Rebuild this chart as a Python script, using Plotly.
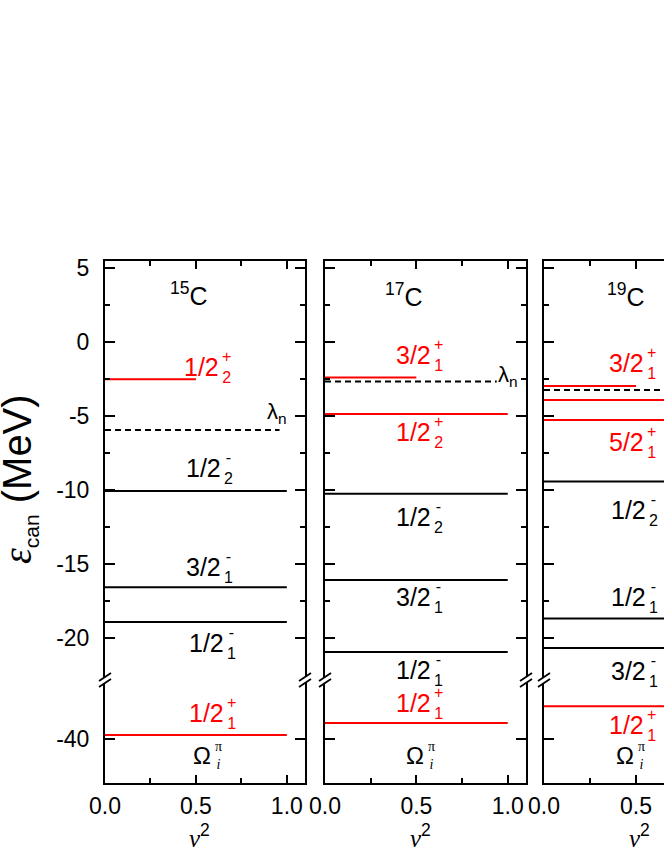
import plotly.graph_objects as go

# ---------------- data ----------------
NUCLEI = ["<sup>15</sup>C", "<sup>17</sup>C", "<sup>19</sup>C"]

# canonical single-particle energies (MeV), occupation v^2, parity
E15 = [-2.54, -10.09, -16.60, -18.94, -39.70]
V15 = [0.50, 1.00, 1.00, 1.00, 1.00]
P15 = ["+", "-", "-", "-", "+"]

E17 = [-2.43, -4.88, -10.27, -16.10, -20.97, -38.90]
V17 = [0.50, 1.00, 1.00, 1.00, 1.00, 1.00]
P17 = ["+", "+", "-", "-", "-", "+"]

E19 = [-2.99, -3.94, -5.29, -9.45, -18.70, -20.70, -37.76]
V19 = [0.50, 1.00, 1.00, 1.00, 1.00, 1.00, 1.00]
P19 = ["+", "+", "+", "-", "-", "-", "+"]

LAMBDA_N = [-5.97, -2.70, -3.26]     # neutron Fermi energy
LAMBDA_V2 = [0.96, 0.94, 0.94]

# state labels: (j, index, parity)
S15 = [("1/2", "2", "+"), ("1/2", "2", "-"), ("3/2", "1", "-"), ("1/2", "1", "-"), ("1/2", "1", "+")]
S17 = [("3/2", "1", "+"), ("1/2", "2", "+"), ("1/2", "2", "-"), ("3/2", "1", "-"), ("1/2", "1", "-"), ("1/2", "1", "+")]
S19 = [("3/2", "1", "+"), ("5/2", "1", "+"), ("1/2", "2", "-"), ("1/2", "1", "-"), ("3/2", "1", "-"), ("1/2", "1", "+")]

Y_TICKS_UP = [5, 0, -5, -10, -15, -20]
Y_TICKS_LOW = [-40]
X_TICKS = [0.0, 0.5, 1.0]

# ---------------- layout geometry ----------------
W, H = 664, 860
def px(x): return x / W
def py(y): return 1 - y / H

X_DOM = [(105, 305), (325, 526), (544, 664)]
X_RANGE = [[0, 1.1], [0, 1.1], [0, 0.652]]
Y_TOP, Y_BRK, Y_BOT = 260.7, 680, 783
UP_RANGE = [-22.86, 5.47]
LOW_RANGE = [-42.95, -35.99]
BREAK_E = -30

# label placement (x = right edge of the main text, y = centre), per panel
LAB_POS = [
    [(0.62, -1.69), (0.63, -8.55), (0.63, -15.2), (0.65, -20.38), (0.65, -38.24)],
    [(0.575, -0.9), (0.575, -6.1), (0.575, -11.82), (0.575, -17.23), (0.575, -22.18), (0.575, -37.57)],
    [(0.54, -1.46), (0.54, -6.8), (0.55, -11.37), (0.55, -17.27), (0.55, -22.23), (0.54, -39.03)],
]
NUC_POS = [(0.46, 3.24), (0.43, 3.16), (0.446, 3.16)]
LAM_POS = [(0.947, -4.8), (1.0, -2.3), None]
OMEGA_X = [0.595, 0.55, 0.50]
OMEGA_Y = -41.06
NU_X = [0.52, 0.52, 0.52]

RED, BLACK = "#ff0000", "#000000"
FONT = "Arial, Liberation Sans, sans-serif"

fig = go.Figure()
anns = []
shapes = []

def ax_ids(i):
    lo = "" if i == 0 else str(i + 1)
    up = str(i + 4)
    return ("x" + lo, "y" + lo, "x" + up, "y" + up)

panels = [(E15, V15, P15, S15), (E17, V17, P17, S17), (E19, V19, P19, S19)]

for i, (E, V, P, S) in enumerate(panels):
    xl, yl, xu, yu = ax_ids(i)
    # level lines
    for e, v, p in zip(E, V, P):
        lower = e < BREAK_E
        fig.add_trace(go.Scatter(
            x=[0, v], y=[e, e], mode="lines",
            line=dict(color=RED if p == "+" else BLACK, width=2),
            xaxis=xl if lower else xu, yaxis=yl if lower else yu,
            showlegend=False, hoverinfo="skip"))
    # Fermi level
    fig.add_trace(go.Scatter(
        x=[0, LAMBDA_V2[i]], y=[LAMBDA_N[i]] * 2, mode="lines",
        line=dict(color=BLACK, width=2, dash="6px,4px"),
        xaxis=xu, yaxis=yu, showlegend=False, hoverinfo="skip"))

    # state labels
    for (j, sub, sup), (lx, ly) in zip(S, LAB_POS[i]):
        lower = ly < BREAK_E
        col = RED if sup == "+" else BLACK
        xr = xl if lower else xu
        yr = yl if lower else yu
        anns.append(dict(xref=xr, yref=yr, x=lx, y=ly, text=j, showarrow=False,
                         xanchor="right", yanchor="middle", xshift=3,
                         font=dict(size=25, color=col, family=FONT)))
        anns.append(dict(xref=xr, yref=yr, x=lx, y=ly, text=f"{sup}<br>{sub}",
                         showarrow=False, xanchor="left", yanchor="middle", xshift=2,
                         font=dict(size=16, color=col, family=FONT)))
    # nucleus name
    anns.append(dict(xref=xu, yref=yu, x=NUC_POS[i][0], y=NUC_POS[i][1], text=NUCLEI[i],
                     showarrow=False, xanchor="center", yanchor="middle",
                     font=dict(size=25, color=BLACK, family=FONT)))
    # lambda_n
    if LAM_POS[i] is not None:
        anns.append(dict(xref=xu, yref=yu, x=LAM_POS[i][0], y=LAM_POS[i][1],
                         text="λ<sub>n</sub>", showarrow=False, xanchor="center", yanchor="middle",
                         font=dict(size=22, color=BLACK, family=FONT)))
    # Omega_i^pi
    anns.append(dict(xref=xl, yref=yl, x=OMEGA_X[i], y=OMEGA_Y, text="Ω", showarrow=False,
                     xanchor="right", yanchor="middle",
                     font=dict(size=24, color=BLACK, family=FONT)))
    anns.append(dict(xref=xl, yref=yl, x=OMEGA_X[i], y=OMEGA_Y,
                     text="π<br><i>i</i>", showarrow=False, xanchor="left", yanchor="middle",
                     xshift=0, font=dict(size=14, color=BLACK, family="Liberation Serif, serif")))
    # nu^2 axis title
    anns.append(dict(xref=xl, yref="paper", x=NU_X[i], y=py(836),
                     text='<span style="font-family:Liberation Serif"><i>ν</i></span><sup>2</sup>',
                     showarrow=False, xanchor="center", yanchor="middle",
                     font=dict(size=25, color=BLACK, family=FONT)))

    # axes
    xd = [px(X_DOM[i][0]), px(X_DOM[i][1])]
    common_x = dict(domain=xd, range=X_RANGE[i], showline=True, linecolor=BLACK, linewidth=2,
                    ticks="inside", ticklen=8, tickwidth=1.8, tickcolor=BLACK,
                    tickvals=X_TICKS, ticktext=[f"{t:.1f}" for t in X_TICKS],
                    minor=dict(tickvals=[0.25, 0.75], ticks="inside", ticklen=5,
                               tickwidth=1.8, tickcolor=BLACK),
                    showgrid=False, zeroline=False, fixedrange=True, automargin=False)
    fig.layout["xaxis" + xl[1:]] = dict(common_x, anchor=yl, side="bottom",
                                        showticklabels=True, ticklabelstandoff=1,
                                        tickfont=dict(size=23, color=BLACK, family=FONT))
    fig.layout["xaxis" + xu[1:]] = dict(common_x, anchor=yu, side="top", showticklabels=False)

    mir = "ticks" if i < 2 else False
    common_y = dict(showline=True, linecolor=BLACK, linewidth=2, ticks="inside",
                    ticklen=10, tickwidth=1.8, tickcolor=BLACK, mirror=mir,
                    showgrid=False, zeroline=False, fixedrange=True, automargin=False,
                    showticklabels=(i == 0), ticklabelstandoff=9,
                    tickfont=dict(size=23, color=BLACK, family=FONT))
    fig.layout["yaxis" + yu[1:]] = dict(
        common_y, anchor=xu, domain=[py(Y_BRK), py(Y_TOP)], range=UP_RANGE,
        tickvals=Y_TICKS_UP, ticktext=[str(t) for t in Y_TICKS_UP],
        minor=dict(tickvals=[2.5, -2.5, -7.5, -12.5, -17.5], ticks="inside", ticklen=5,
                   tickwidth=1.8, tickcolor=BLACK))
    fig.layout["yaxis" + yl[1:]] = dict(
        common_y, anchor=xl, domain=[py(Y_BOT), py(Y_BRK)], range=LOW_RANGE,
        tickvals=Y_TICKS_LOW, ticktext=[str(t) for t in Y_TICKS_LOW])

    # axis-break marks
    edges = [X_DOM[i][0]] + ([X_DOM[i][1]] if i < 2 else [])
    for ax in edges:
        shapes.append(dict(type="rect", xref="paper", yref="paper",
                           x0=px(ax - 2), x1=px(ax + 2), y0=py(Y_BRK + 3), y1=py(Y_BRK - 3),
                           fillcolor="white", line=dict(width=0), layer="above"))
        for dy in (-3, 3):
            shapes.append(dict(type="line", xref="paper", yref="paper",
                               x0=px(ax - 6), y0=py(Y_BRK + dy + 4),
                               x1=px(ax + 6), y1=py(Y_BRK + dy - 4),
                               line=dict(color=BLACK, width=1.8), layer="above"))

# y-axis title
anns.append(dict(xref="paper", yref="paper", x=px(19), y=py(479), textangle=-90,
                 text='<span style="font-family:Liberation Serif"><i>ε</i></span>'
                      '<sub><span style="font-size:21px">can</span></sub> (MeV)',
                 showarrow=False, xanchor="center", yanchor="middle",
                 font=dict(size=40, color=BLACK, family=FONT)))

fig.update_layout(template="none", width=W, height=H,
                  margin=dict(l=0, r=0, t=0, b=0, autoexpand=False),
                  paper_bgcolor="white", plot_bgcolor="white",
                  showlegend=False, annotations=anns, shapes=shapes,
                  font=dict(family=FONT, color=BLACK))

fig.write_html("out.html", config={"displayModeBar": False},
               post_script="document.body.style.margin='0px';document.body.style.overflow='hidden';")
